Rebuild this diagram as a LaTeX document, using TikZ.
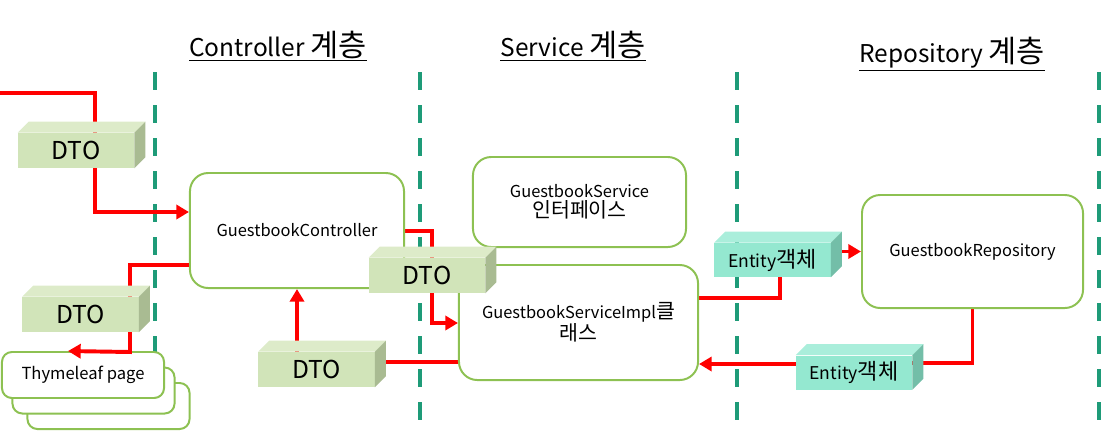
\documentclass[tikz,border=0pt]{standalone}
\usepackage{fontspec}
\setmainfont{Noto Sans CJK KR}
\newfontfamily\kr[Scale=1.25]{Noto Sans CJK KR}
\usepackage{xcolor}
\usetikzlibrary{arrows.meta,backgrounds}

\definecolor{layerline}{RGB}{30,155,120}
\definecolor{boxline}{RGB}{141,193,82}
\definecolor{dtofront}{RGB}{209,228,185}
\definecolor{dtotop}{RGB}{221,235,201}
\definecolor{dtoside}{RGB}{169,187,146}
\definecolor{entfront}{RGB}{148,232,208}
\definecolor{enttop}{RGB}{170,238,219}
\definecolor{entside}{RGB}{115,190,168}

\begin{document}
\begin{tikzpicture}[
    x=0.025cm, y=-0.025cm,
    layer/.style={font=\fontsize{17.4}{21}\selectfont, inner sep=1pt},
    comp/.style={draw=boxline, line width=1.4pt, rounded corners=13pt, fill=white, align=center, font=\fontsize{11.7}{14.5}\selectfont},
    page/.style={draw=boxline, line width=1.4pt, rounded corners=7pt, fill=white, minimum width=4.05cm, minimum height=1.15cm, font=\fontsize{11.8}{15}\selectfont},
    dto/.style={fill=dtofront, minimum width=2.9cm, minimum height=0.875cm, inner sep=0pt, font=\fontsize{17.5}{20}\selectfont},
    entity/.style={fill=entfront, minimum width=2.9cm, minimum height=0.85cm, inner sep=0pt, font=\fontsize{12.5}{15}\selectfont},
    flow/.style={draw=red, line width=2.8pt},
    arrow/.style={flow, -{Triangle[length=9pt,width=10pt]}},
    divider/.style={draw=layerline, line width=3.5pt, dash pattern=on 0.45cm off 0.375cm}
]
\useasboundingbox (0,0) rectangle (1109,442);

% layer titles
\node[layer] (ctrlT) at (278,46) {\underline{Controller {\kr 계층}}};
\node[layer] (svcT) at (573,46) {\underline{Service {\kr 계층}}};
\node[layer] (repoT) at (952,54) {\underline{Repository {\kr 계층}}};

% components
\node[comp, minimum width=5.35cm, minimum height=2.875cm] (ctrl) at (297,230.5) {GuestbookController};
\node[comp, minimum width=5.325cm, minimum height=2.25cm] (svc) at (579.5,202) {GuestbookService\\{\kr 인터페이스}};
\node[comp, minimum width=5.975cm, minimum height=2.875cm] (impl) at (578.5,322.5) {GuestbookServiceImpl{\kr 클}\\{\kr 래스}};
\node[comp, minimum width=5.525cm, minimum height=2.825cm] (repo) at (972.5,251.5) {GuestbookRepository};

\node[page] (thyC) at (108.5,406) {};
\node[page] (thyB) at (93.5,390.5) {};
\node[page] (thyA) at (83,375) {Thymeleaf page};

\draw[arrow] (ctrl.west |- 0,265) -- (130,265) -- (130,352) -- (thyA.north -| 68,0);

% data objects
\node[dto] (dtoA) at (76,150.5) {DTO};
\node[dto] (dtoB) at (80.5,314.5) {DTO};
\node[dto] (dtoC) at (316.5,369.5) {DTO};
\node[dto] (dtoM) at (427,275.5) {DTO};
\node[entity] (entA) at (772.5,260) {Entity{\kr 객체}};
\node[entity] (entB) at (854,372.5) {Entity{\kr 객체}};

\foreach \b/\kind in {dtoA/dto,dtoB/dto,dtoC/dto,dtoM/dto,entA/ent,entB/ent} {
  \fill[fill=\kind top] (\b.north west) -- ++(11,-11) -- ([shift={(11,-11)}]\b.north east) -- (\b.north east) -- cycle;
  \fill[fill=\kind side] (\b.north east) -- ++(11,-11) -- ([shift={(11,-11)}]\b.south east) -- (\b.south east) -- cycle;
}

\coordinate (inL) at (0,93);

\begin{scope}[on background layer]
\foreach \x in {155,420,737,1099} \draw[divider] (\x,72) -- (\x,425);

\draw[arrow] (inL) -- (95,93) -- (95,212) -- (ctrl.west |- 95,212);
\draw[arrow] (dtoC.north -| ctrl.south) -- (ctrl.south);
\draw[flow] (impl.west |- 0,362) -- (dtoC.east |- 0,362);
\draw[arrow] (ctrl.east |- 0,231) -- (432,231) -- (432,323) -- (impl.west |- 0,323);
\draw[flow] (impl.east |- 0,298) -- (780,298) -- (entA.south -| 780,0);
\draw[arrow] (entA.east |- repo.west) -- (repo.west);
\draw[flow] (repo.south) -- (repo.south |- 0,363) -- (entB.east |- 0,363);
\draw[arrow] (entB.west |- 0,364) -- (impl.east |- 0,364);
\end{scope}

\end{tikzpicture}
\end{document}
